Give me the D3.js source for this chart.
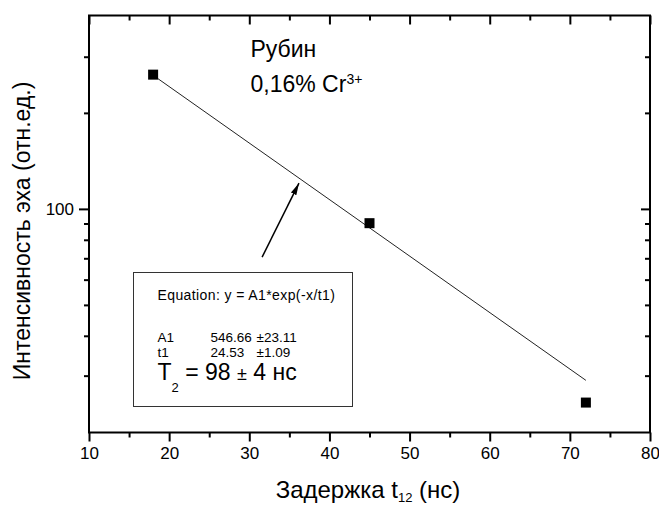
<!DOCTYPE html>
<html>
<head>
<meta charset="utf-8">
<script src="https://cdn.jsdelivr.net/npm/d3@7"></script>
<style>
  html, body { margin: 0; padding: 0; background: #fff; }
  svg { display: block; font-family: "Liberation Sans", Arial, sans-serif; }
</style>
</head>
<body>
<svg id="chart" width="659" height="505"></svg>
<script>
// ---- data ----
const delays = [18, 45, 72];                 // t12, ns
const intensities = [263.6, 90.2, 24.7];     // echo intensity, a.u.
const fitX = [18, 72];                       // fitted line end points
const fitY = [262.4, 29.0];
const arrowFrom = [31.6, 70.6];              // annotation arrow (data coords)
const arrowTo = [36.2, 120.4];
const xMajorTicks = [10, 20, 30, 40, 50, 60, 70, 80];
const xMinorTicks = [15, 25, 35, 45, 55, 65, 75];
const yMajorTicks = [100];
const yMinorTicks = [30, 40, 50, 60, 70, 80, 90, 200, 300];
const xDomain = [10, 80];
const yDomain = [19.9, 404];

const svg = d3.select("#chart");
const L = 89, R = 650, T = 15.5, B = 432.5;
const x = d3.scaleLinear().domain(xDomain).range([L, R]);
const y = d3.scaleLog().domain(yDomain).range([B, T]);
const FONT = "Liberation Sans, Arial, sans-serif";

function ticks(axisGen, tr) {
  svg.append("g").attr("transform", tr)
    .call(axisGen)
    .call(g => g.select(".domain").remove())
    .call(g => g.selectAll("line").attr("stroke-width", 2))
    .call(g => g.selectAll("text").attr("font-size", 17).attr("font-family", FONT).attr("fill", "#000"));
}
// bottom (outward), top (inward)
ticks(d3.axisBottom(x).tickValues(xMajorTicks).tickSize(9).tickPadding(5).tickFormat(d3.format("d")), `translate(0,${B})`);
ticks(d3.axisBottom(x).tickValues(xMinorTicks).tickSize(5).tickFormat(""), `translate(0,${B})`);
ticks(d3.axisBottom(x).tickValues(xMajorTicks).tickSize(9).tickFormat(""), `translate(0,${T})`);
ticks(d3.axisBottom(x).tickValues(xMinorTicks).tickSize(5).tickFormat(""), `translate(0,${T})`);
// left (outward), right (inward)
ticks(d3.axisLeft(y).tickValues(yMajorTicks).tickSize(10).tickPadding(5).tickFormat(d3.format("d")), `translate(${L},0)`);
ticks(d3.axisLeft(y).tickValues(yMinorTicks).tickSize(5).tickFormat(""), `translate(${L},0)`);
ticks(d3.axisLeft(y).tickValues(yMajorTicks).tickSize(9).tickFormat(""), `translate(${R},0)`);
ticks(d3.axisLeft(y).tickValues(yMinorTicks).tickSize(5).tickFormat(""), `translate(${R},0)`);

svg.append("rect").attr("x", L).attr("y", T).attr("width", R - L).attr("height", B - T)
  .attr("fill", "none").attr("stroke", "#000").attr("stroke-width", 2);

// fit line
svg.append("path")
  .datum(fitX.map((d, i) => [d, fitY[i]]))
  .attr("d", d3.line().x(d => x(d[0])).y(d => y(d[1])))
  .attr("fill", "none").attr("stroke", "#222").attr("stroke-width", 1);

// data markers
const ms = 10;
svg.selectAll("rect.pt").data(delays.map((d, i) => [d, intensities[i]]))
  .join("rect").attr("class", "pt")
  .attr("x", d => x(d[0]) - ms / 2).attr("y", d => y(d[1]) - ms / 2)
  .attr("width", ms).attr("height", ms).attr("fill", "#000");

// arrow
svg.append("defs").append("marker").attr("id", "ah")
  .attr("viewBox", "0 0 12 10").attr("refX", 12).attr("refY", 5)
  .attr("markerWidth", 12).attr("markerHeight", 10).attr("markerUnits", "userSpaceOnUse")
  .attr("orient", "auto")
  .append("path").attr("d", "M0,2 L12,5 L0,8 Z").attr("fill", "#000");
svg.append("line")
  .attr("x1", x(arrowFrom[0])).attr("y1", y(arrowFrom[1]))
  .attr("x2", x(arrowTo[0])).attr("y2", y(arrowTo[1]))
  .attr("stroke", "#000").attr("stroke-width", 1.5).attr("marker-end", "url(#ah)");

// labels
svg.append("text").attr("x", 250.5).attr("y", 56.5).attr("font-size", 23).text("Рубин");
const t2 = svg.append("text").attr("x", 250.5).attr("y", 91.5).attr("font-size", 23);
t2.append("tspan").text("0,16% Cr");
t2.append("tspan").attr("font-size", 14).attr("dy", -8).text("3+");

// fit box
svg.append("rect").attr("x", 133.5).attr("y", 272.5).attr("width", 219).attr("height", 134)
  .attr("fill", "#fff").attr("stroke", "#333").attr("stroke-width", 1);
svg.append("text").attr("x", 157.5).attr("y", 299.5).attr("font-size", 14)
  .attr("letter-spacing", 0.4).text("Equation: y = A1*exp(-x/t1)");
const params = [["A1", "546.66", "±23.11"], ["t1", "24.53", "±1.09"]];
params.forEach((p, i) => {
  const yy = 341.5 + i * 15;
  svg.append("text").attr("x", 157.5).attr("y", yy).attr("font-size", 13.5).text(p[0]);
  svg.append("text").attr("x", 210.5).attr("y", yy).attr("font-size", 13.5).text(p[1]);
  svg.append("text").attr("x", 256.5).attr("y", yy).attr("font-size", 13.5).text(p[2]);
});
const tt = svg.append("text").attr("x", 157.5).attr("y", 380).attr("font-size", 23);
tt.append("tspan").text("T");
tt.append("tspan").attr("font-size", 13).attr("dy", 12).text("2");
tt.append("tspan").attr("dy", -12).text(" = 98 ");
tt.append("tspan").attr("font-size", 18).text("±");
tt.append("tspan").text(" 4 нс");

// axis titles
svg.append("text").attr("transform", "translate(30,231) rotate(-90)")
  .attr("text-anchor", "middle").attr("font-size", 23).text("Интенсивность эха (отн.ед.)");
const xt = svg.append("text").attr("x", 368).attr("y", 497.5).attr("text-anchor", "middle").attr("font-size", 24);
xt.append("tspan").text("Задержка t");
xt.append("tspan").attr("font-size", 13).attr("dy", 4.5).text("12");
xt.append("tspan").attr("dy", -4.5).text(" (нс)");
</script>
</body>
</html>
